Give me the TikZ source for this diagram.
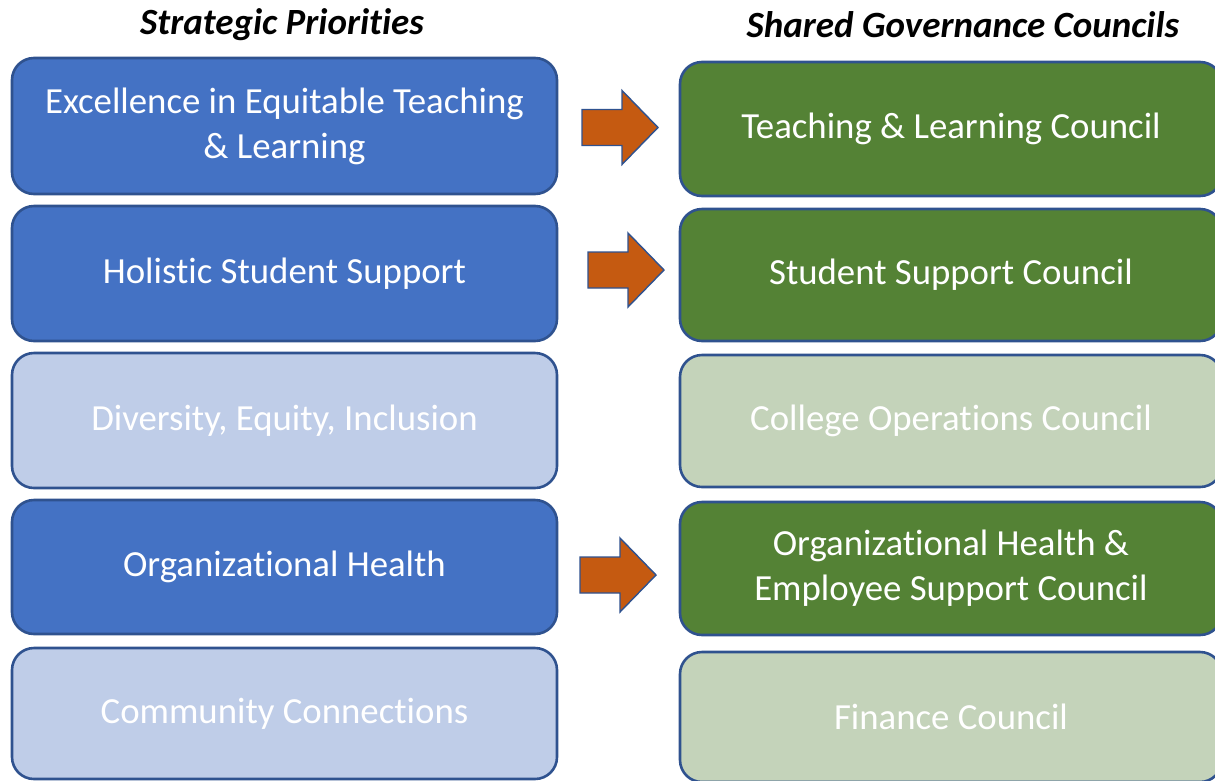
\documentclass[tikz,border=0pt]{standalone}
\usepackage{fontspec}
\setmainfont{Carlito}[RawFeature={-liga}]
\begin{document}
\definecolor{prioblue}{HTML}{4472C4}
\definecolor{priolight}{HTML}{BFCDE8}
\definecolor{cncgreen}{HTML}{548235}
\definecolor{cnclight}{HTML}{C4D3BA}
\definecolor{edgeblue}{HTML}{2F528F}
\definecolor{arroworange}{HTML}{C55A11}
\begin{tikzpicture}[x=1pt,y=-1pt,
  box/.style={rectangle, rounded corners=22pt, draw=edgeblue, line width=2.6pt,
    text=white, align=center, inner sep=0pt,
    font=\fontsize{36.8}{45}\selectfont},
  leftbox/.style={box, minimum width=545pt},
  rightbox/.style={box, minimum width=542pt},
  active/.style={fill=prioblue},
  inactive/.style={fill=priolight},
  gactive/.style={fill=cncgreen},
  ginactive/.style={fill=cnclight},
  heading/.style={font=\fontsize{37}{42}\selectfont\bfseries\itshape, text=black},
  blockarrow/.pic={
    \draw[fill=arroworange, draw=edgeblue, line width=1.4pt, line join=miter]
      (0,-18) -- (40,-18) -- (40,-37) -- (76,0) -- (40,37) -- (40,18) -- (0,18) -- cycle;
  }]
\useasboundingbox (0,0) rectangle (1215,780);

% column headings
\node[heading] (hl) at (282,25) {Strategic Priorities};
\node[heading] (hr) at (963,25) {Shared Governance Councils};

% strategic priorities
\node[leftbox, active,   minimum height=136pt] (p1) at (284.5,126)   {Excellence in Equitable Teaching\\\& Learning};
\node[leftbox, active,   minimum height=135pt] (p2) at (284.5,273.5) {Holistic Student Support};
\node[leftbox, inactive, minimum height=135pt] (p3) at (284.5,420.5) {Diversity, Equity, Inclusion};
\node[leftbox, active,   minimum height=134pt] (p4) at (284.5,567)   {Organizational Health};
\node[leftbox, inactive, minimum height=131pt] (p5) at (284.5,713.5) {Community Connections};

% councils
\node[rightbox, gactive,   minimum height=134pt] (c1) at (951,129)   {Teaching \& Learning Council};
\node[rightbox, gactive,   minimum height=132pt] (c2) at (951,275)   {Student Support Council};
\node[rightbox, ginactive, minimum height=132pt] (c3) at (951,421)   {College Operations Council};
\node[rightbox, gactive,   minimum height=133pt] (c4) at (951,568.5) {Organizational Health \&\\Employee Support Council};
\node[rightbox, ginactive, minimum height=130pt] (c5) at (951,717)   {Finance Council};

% block arrows linking priorities to councils
\pic at (582,127.5) {blockarrow};
\pic at (588,270) {blockarrow};
\pic at (580,575) {blockarrow};
\end{tikzpicture}
\end{document}
